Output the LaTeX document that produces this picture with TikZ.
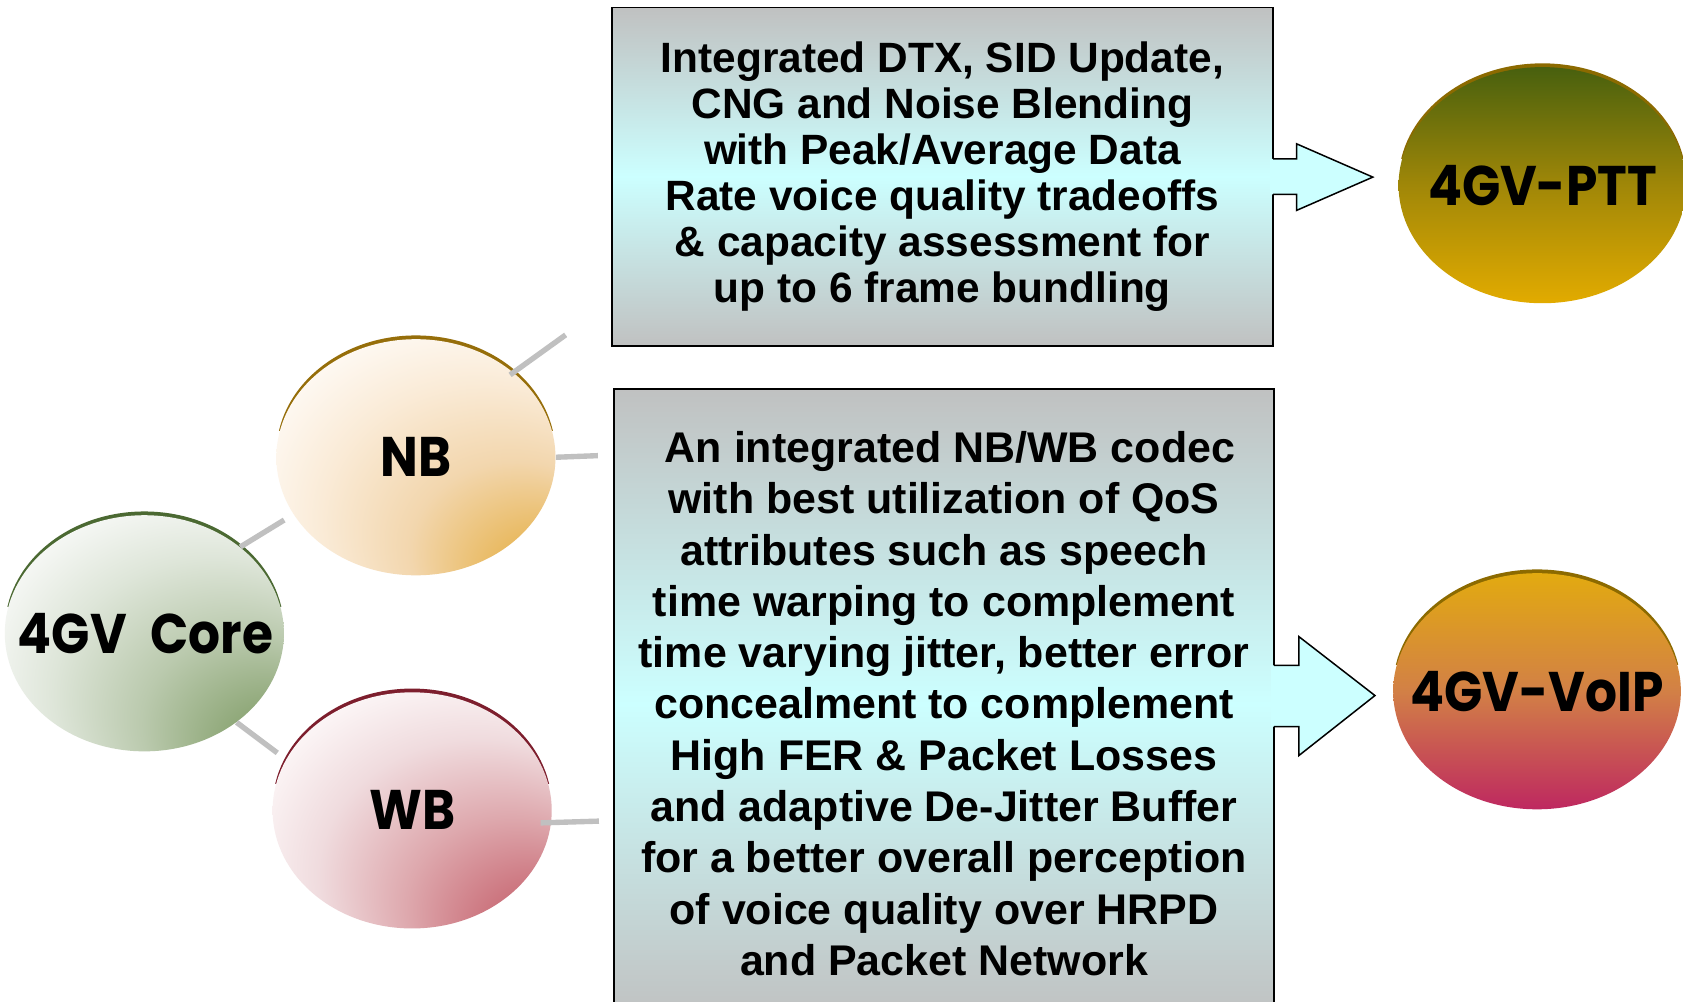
\documentclass[tikz,border=0pt]{standalone}
\usepackage{fontspec}
\setmainfont{Liberation Sans}
\newfontfamily\comicfont{Poppins}[FakeStretch=0.9]
\usetikzlibrary{shapes.geometric,calc}

\definecolor{boxgray}{RGB}{192,193,193}
\definecolor{boxcyan}{RGB}{204,255,255}
\definecolor{linkgray}{RGB}{192,192,192}
\definecolor{nbrim}{RGB}{150,110,10}
\definecolor{corerim}{RGB}{75,105,50}
\definecolor{wbrim}{RGB}{125,30,45}
\definecolor{goldrim}{RGB}{140,106,0}
\definecolor{pttTop}{RGB}{72,96,14}
\definecolor{pttMid}{RGB}{160,135,8}
\definecolor{pttBot}{RGB}{226,171,0}
\definecolor{voipTop}{RGB}{226,170,16}
\definecolor{voipMid}{RGB}{210,128,70}
\definecolor{voipBot}{RGB}{190,40,96}

\pgfdeclareradialshading{nbshade}{\pgfpoint{29bp}{-32bp}}{%
  rgb(0bp)=(0.90,0.67,0.22);
  rgb(9bp)=(0.91,0.72,0.36);
  rgb(19bp)=(0.95,0.84,0.68);
  rgb(29bp)=(0.98,0.92,0.84);
  rgb(39bp)=(1,0.99,0.98);
  rgb(50bp)=(1,1,1)}
\pgfdeclareradialshading{coreshade}{\pgfpoint{30bp}{-31bp}}{%
  rgb(0bp)=(0.47,0.59,0.37);
  rgb(9bp)=(0.55,0.65,0.46);
  rgb(19bp)=(0.73,0.79,0.68);
  rgb(29bp)=(0.87,0.90,0.85);
  rgb(39bp)=(0.99,0.99,0.99);
  rgb(50bp)=(1,1,1)}
\pgfdeclareradialshading{wbshade}{\pgfpoint{29bp}{-33bp}}{%
  rgb(0bp)=(0.75,0.30,0.35);
  rgb(9bp)=(0.79,0.43,0.47);
  rgb(19bp)=(0.87,0.66,0.68);
  rgb(29bp)=(0.94,0.86,0.87);
  rgb(39bp)=(1,0.99,0.99);
  rgb(50bp)=(1,1,1)}

\tikzset{
  blob/.style={ellipse, inner sep=0pt, minimum width=130pt, minimum height=110pt},
  lbl/.style={inner sep=0pt, font=\comicfont\bfseries\fontsize{26pt}{30pt}\selectfont},
  infobox/.style={rectangle, draw=black, line width=0.9pt, inner sep=0pt,
    top color=boxgray, bottom color=boxgray, middle color=boxcyan, align=center},
  link/.style={draw=linkgray, line width=2.5pt},
  arrowfill/.style={fill=boxcyan, draw=none},
  arrowline/.style={draw=black, line width=0.7pt, line join=miter}
}
% rim: dark ellipse shifted up, only its upper part kept
\newcommand{\rimat}[5]{% color, cx, cy, rx, ry
  \begin{scope}
    \clip (#2-#4-5,#3-#5-10) rectangle (#2+#4+5,#3-25);
    \fill[#1] (#2,#3-3.5) ellipse[x radius=#4, y radius=#5];
  \end{scope}}

\begin{document}
\begin{tikzpicture}[x=0.5pt,y=-0.5pt]
\clip (0,0) rectangle (1568,933);
\fill[white] (0,0) rectangle (1568,933);

% ---- info boxes
\node[infobox, minimum width=308pt, minimum height=157.5pt,
  font=\bfseries\fontsize{19.75pt}{21.5pt}\selectfont] (ptttext) at (878,164.5)
  {Integrated DTX, SID Update,\\CNG and Noise Blending\\with Peak/Average Data\\Rate voice quality tradeoffs\\\& capacity assessment for\\up to 6 frame bundling};
\node[infobox, minimum width=307.5pt, minimum height=293pt,
  font=\bfseries\fontsize{20pt}{23.9pt}\selectfont] (voiptext) at (879.5,655.5)
  {\ An integrated NB/WB codec\\with best utilization of QoS\\attributes such as speech\\time warping to complement\\time varying jitter, better error\\concealment to complement\\High FER \& Packet Losses\\and adaptive De-Jitter Buffer\\for a better overall perception\\of voice quality over HRPD\\and Packet Network};

% ---- block arrows
\fill[arrowfill] (1183,148) -- (1208,148) -- (1208,134) -- (1279,165) -- (1208,196) -- (1208,181) -- (1183,181) -- cycle;
\draw[arrowline] (1186,148) -- (1208,148) -- (1208,134) -- (1279,165) -- (1208,196) -- (1208,181) -- (1186,181);
\fill[arrowfill] (1184,620) -- (1210,620) -- (1210,593) -- (1281,648) -- (1210,704) -- (1210,677) -- (1184,677) -- cycle;
\draw[arrowline] (1187,620) -- (1210,620) -- (1210,593) -- (1281,648) -- (1210,704) -- (1210,677) -- (1187,677);

% ---- right ellipses
\rimat{goldrim}{1437}{172.5}{134}{110}
\node[blob, minimum width=134pt, top color=pttTop, bottom color=pttBot, middle color=pttMid,
  label={[lbl]center:4GV-PTT}] (ptt) at (1437,172.5) {};
\rimat{goldrim}{1432}{644}{134}{110}
\node[blob, minimum width=134pt, top color=voipTop, bottom color=voipBot, middle color=voipMid,
  label={[lbl]center:4GV-VoIP}] (voip) at (1432,644) {};

% ---- left ellipses
\rimat{nbrim}{387.5}{426}{130}{110}
\node[blob, shading=nbshade, label={[lbl]center:NB}] (nb) at (387.5,426) {};
\rimat{corerim}{134.5}{590}{130}{110}
\node[blob, shading=coreshade, label={[lbl, xshift=0.5pt]center:4GV\hspace{0.42em}Core}] (core) at (134.5,590) {};
\rimat{wbrim}{384}{755}{130}{110}
\node[blob, shading=wbshade, label={[lbl]center:WB}] (wb) at (384,755) {};

% ---- connectors
\coordinate (nbtop) at (527,312);
\coordinate (nbright) at (557,424.5);
\coordinate (wbright) at (558,765);
\draw[link, shorten >=5pt] (core.42) -- (nb.205);
\draw[link, shorten >=5pt] (core.-44.5) -- (wb.158);
\draw[link, shorten <=-2pt] (nb.41) -- (nbtop);
\draw[link] (nb.east) -- (nbright);
\draw[link, shorten <=-5pt] (wb.-5) -- (wbright);
\end{tikzpicture}
\end{document}
